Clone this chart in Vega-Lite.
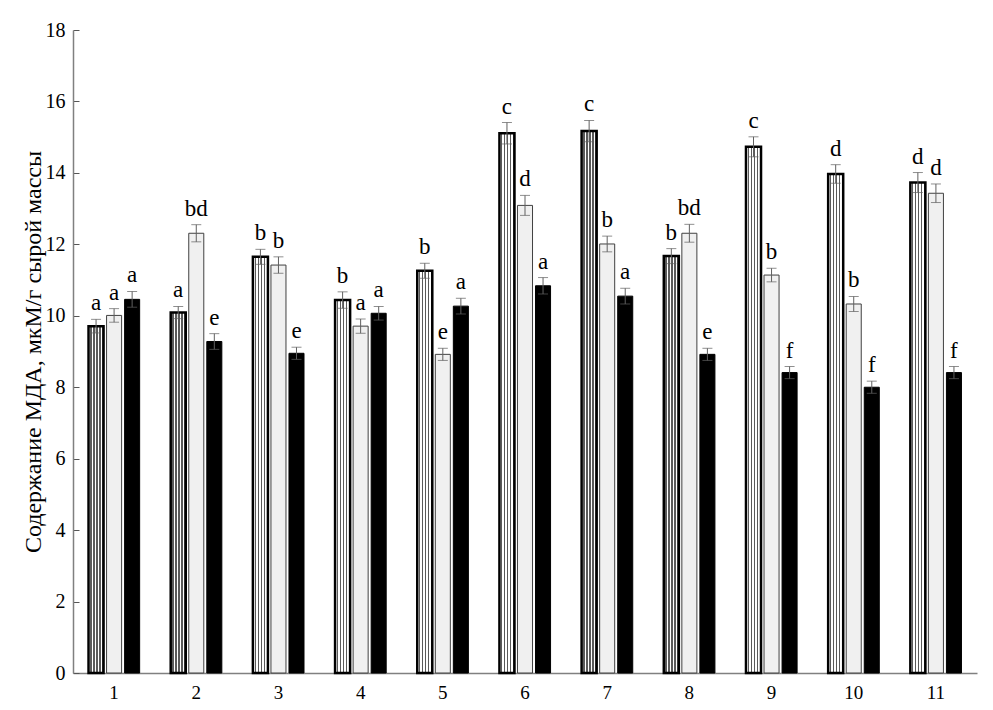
{
  "$schema": "https://vega.github.io/schema/vega-lite/v6.json",
  "width": 904,
  "height": 643,
  "autosize": {"type": "none"},
  "padding": {"left": 73, "top": 30, "right": 16, "bottom": 37},
  "background": "white",
  "config": {
    "view": {"stroke": null},
    "font": "Liberation Serif",
    "axis": {"grid": false, "domainColor": "#808080", "domainWidth": 1.5, "tickColor": "#555555", "labelColor": "black", "labelFont": "Liberation Serif", "titleFont": "Liberation Serif", "titleFontWeight": "normal"}
  },
  "data": {"values": [
    {"g": "1", "s": "A", "v": 9.71, "lo": 9.52, "hi": 9.90, "lab": "a"},
    {"g": "1", "s": "B", "v": 10.01, "lo": 9.82, "hi": 10.20, "lab": "a"},
    {"g": "1", "s": "C", "v": 10.46, "lo": 10.24, "hi": 10.68, "lab": "a"},
    {"g": "2", "s": "A", "v": 10.09, "lo": 9.92, "hi": 10.26, "lab": "a"},
    {"g": "2", "s": "B", "v": 12.31, "lo": 12.07, "hi": 12.55, "lab": "bd"},
    {"g": "2", "s": "C", "v": 9.28, "lo": 9.06, "hi": 9.50, "lab": "e"},
    {"g": "3", "s": "A", "v": 11.65, "lo": 11.44, "hi": 11.86, "lab": "b"},
    {"g": "3", "s": "B", "v": 11.42, "lo": 11.19, "hi": 11.65, "lab": "b"},
    {"g": "3", "s": "C", "v": 8.95, "lo": 8.78, "hi": 9.12, "lab": "e"},
    {"g": "4", "s": "A", "v": 10.44, "lo": 10.21, "hi": 10.67, "lab": "b"},
    {"g": "4", "s": "B", "v": 9.71, "lo": 9.51, "hi": 9.91, "lab": "a"},
    {"g": "4", "s": "C", "v": 10.07, "lo": 9.88, "hi": 10.26, "lab": "a"},
    {"g": "5", "s": "A", "v": 11.26, "lo": 11.05, "hi": 11.47, "lab": "b"},
    {"g": "5", "s": "B", "v": 8.92, "lo": 8.75, "hi": 9.09, "lab": "e"},
    {"g": "5", "s": "C", "v": 10.27, "lo": 10.05, "hi": 10.49, "lab": "a"},
    {"g": "6", "s": "A", "v": 15.11, "lo": 14.81, "hi": 15.41, "lab": "c"},
    {"g": "6", "s": "B", "v": 13.09, "lo": 12.81, "hi": 13.37, "lab": "d"},
    {"g": "6", "s": "C", "v": 10.84, "lo": 10.61, "hi": 11.07, "lab": "a"},
    {"g": "7", "s": "A", "v": 15.17, "lo": 14.87, "hi": 15.47, "lab": "c"},
    {"g": "7", "s": "B", "v": 12.01, "lo": 11.79, "hi": 12.23, "lab": "b"},
    {"g": "7", "s": "C", "v": 10.55, "lo": 10.33, "hi": 10.77, "lab": "a"},
    {"g": "8", "s": "A", "v": 11.67, "lo": 11.46, "hi": 11.88, "lab": "b"},
    {"g": "8", "s": "B", "v": 12.31, "lo": 12.06, "hi": 12.56, "lab": "bd"},
    {"g": "8", "s": "C", "v": 8.92, "lo": 8.75, "hi": 9.09, "lab": "e"},
    {"g": "9", "s": "A", "v": 14.73, "lo": 14.45, "hi": 15.01, "lab": "c"},
    {"g": "9", "s": "B", "v": 11.14, "lo": 10.95, "hi": 11.33, "lab": "b"},
    {"g": "9", "s": "C", "v": 8.41, "lo": 8.24, "hi": 8.58, "lab": "f"},
    {"g": "10", "s": "A", "v": 13.97, "lo": 13.71, "hi": 14.23, "lab": "d"},
    {"g": "10", "s": "B", "v": 10.33, "lo": 10.12, "hi": 10.54, "lab": "b"},
    {"g": "10", "s": "C", "v": 8.0, "lo": 7.83, "hi": 8.17, "lab": "f"},
    {"g": "11", "s": "A", "v": 13.73, "lo": 13.45, "hi": 14.01, "lab": "d"},
    {"g": "11", "s": "B", "v": 13.43, "lo": 13.17, "hi": 13.69, "lab": "d"},
    {"g": "11", "s": "C", "v": 8.41, "lo": 8.24, "hi": 8.58, "lab": "f"}
  ]},
  "encoding": {
    "x": {"field": "g", "type": "nominal", "sort": null,
      "scale": {"paddingInner": 0.378, "paddingOuter": 0.189},
      "axis": {"title": null, "labelAngle": 0, "ticks": false, "labelFontSize": 19, "labelPadding": 10}},
    "xOffset": {"field": "s", "type": "nominal", "scale": {"domain": ["A", "B", "C"], "paddingInner": 0.1667, "paddingOuter": 0}}
  },
  "layer": [
    {
      "mark": {"type": "bar"},
      "encoding": {
        "y": {"field": "v", "type": "quantitative",
          "scale": {"domain": [0, 18], "nice": false},
          "axis": {"values": [0, 2, 4, 6, 8, 10, 12, 14, 16, 18], "tickSize": -6, "labelPadding": 14, "labelFontSize": 20,
            "title": "Содержание МДА, мкМ/г сырой массы", "titleFontSize": 24, "titlePadding": 0}},
        "fill": {
          "condition": [
            {"test": "datum.s === 'A'", "value": {"gradient": "linear", "x1": 0, "y1": 0, "x2": 1, "y2": 0, "stops": [
              {"offset": 0, "color": "#ffffff"}, {"offset": 0.11, "color": "#ffffff"}, {"offset": 0.11, "color": "#5a5a5a"}, {"offset": 0.2, "color": "#5a5a5a"},
              {"offset": 0.2, "color": "#ffffff"}, {"offset": 0.31, "color": "#ffffff"}, {"offset": 0.31, "color": "#5a5a5a"}, {"offset": 0.4, "color": "#5a5a5a"},
              {"offset": 0.4, "color": "#ffffff"}, {"offset": 0.51, "color": "#ffffff"}, {"offset": 0.51, "color": "#5a5a5a"}, {"offset": 0.6, "color": "#5a5a5a"},
              {"offset": 0.6, "color": "#ffffff"}, {"offset": 0.71, "color": "#ffffff"}, {"offset": 0.71, "color": "#5a5a5a"}, {"offset": 0.8, "color": "#5a5a5a"},
              {"offset": 0.8, "color": "#ffffff"}, {"offset": 0.91, "color": "#ffffff"}, {"offset": 0.91, "color": "#5a5a5a"}, {"offset": 1, "color": "#5a5a5a"}
            ]}},
            {"test": "datum.s === 'B'", "value": "#f0f0f0"}
          ],
          "value": "#000000"
        },
        "stroke": {"condition": {"test": "datum.s === 'B'", "value": "#404040"}, "value": "#000000"},
        "strokeWidth": {"condition": {"test": "datum.s === 'A'", "value": 2.5}, "value": 1}
      }
    },
    {
      "mark": {"type": "rule", "color": "#606060", "strokeWidth": 1},
      "encoding": {"y": {"field": "lo", "type": "quantitative"}, "y2": {"field": "hi"}}
    },
    {
      "mark": {"type": "tick", "color": "#606060", "size": 10, "thickness": 1},
      "encoding": {"y": {"field": "hi", "type": "quantitative"}}
    },
    {
      "mark": {"type": "tick", "color": "#606060", "size": 10, "thickness": 1},
      "encoding": {"y": {"field": "lo", "type": "quantitative"}}
    },
    {
      "mark": {"type": "text", "baseline": "alphabetic", "dy": -9, "fontSize": 23, "font": "Liberation Serif", "color": "black"},
      "encoding": {"y": {"field": "hi", "type": "quantitative"}, "text": {"field": "lab"}}
    }
  ]
}
